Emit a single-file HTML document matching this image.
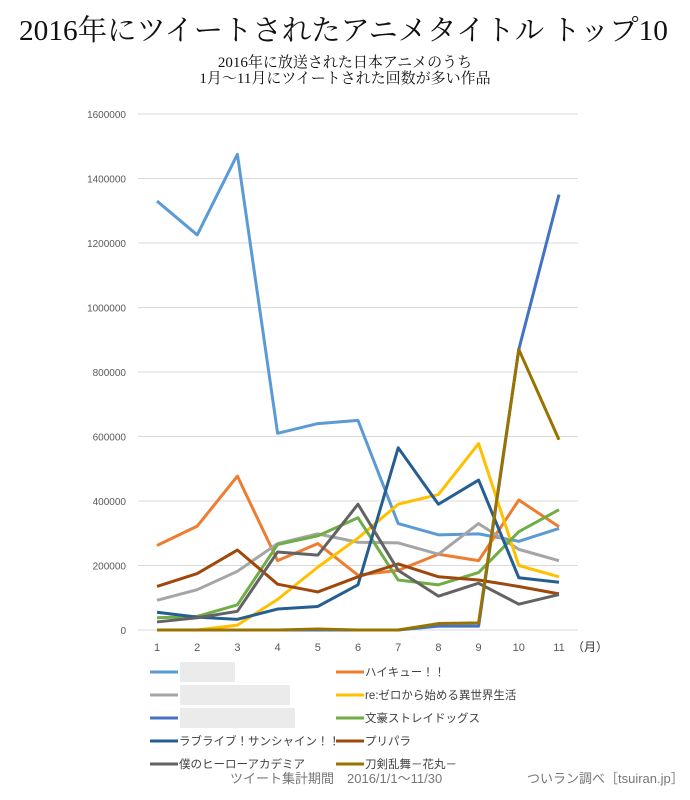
<!DOCTYPE html>
<html><head><meta charset="utf-8"><style>
body{margin:0;background:#fff;width:690px;height:795px;overflow:hidden}
svg text{font-family:"Liberation Sans","Noto Sans CJK JP",sans-serif}
.serif{font-family:"Liberation Serif","Noto Serif CJK SC",serif !important}
</style></head><body>
<svg id="chart" width="690" height="795" xmlns="http://www.w3.org/2000/svg">
<text class="serif" x="19" y="40" font-size="29" textLength="649" lengthAdjust="spacingAndGlyphs" fill="#111">2016年にツイートされたアニメタイトル トップ10</text>
<text class="serif" x="345" y="67" font-size="15" text-anchor="middle" fill="#111">2016年に放送された日本アニメのうち</text>
<text class="serif" x="345" y="83" font-size="15" text-anchor="middle" fill="#111">1月～11月にツイートされた回数が多い作品</text>
<g id="grid"></g><g id="series"></g><g id="legend"></g>
<text x="572" y="651" font-size="12" fill="#333">（月）</text>
<text x="230" y="783" font-size="13" fill="#777">ツイート集計期間　2016/1/1～11/30</text>
<text x="527" y="783" font-size="13" fill="#777">ついラン調べ［tsuiran.jp］</text>
</svg>
<script>
const months=[1,2,3,4,5,6,7,8,9,10,11];
const yTicks=[0,200000,400000,600000,800000,1000000,1200000,1400000,1600000];
const names=["","ハイキュー！！","","re:ゼロから始める異世界生活","","文豪ストレイドッグス","ラブライブ！サンシャイン！！","プリパラ","僕のヒーローアカデミア","刀剣乱舞－花丸－"];
const colors=["#5b9bd5","#ed7d31","#a5a5a5","#ffc000","#4472c4","#70ad47","#255e91","#9e480e","#636363","#997300"];
const s0=[1330000,1225000,1475000,610000,640000,650000,330000,295000,298000,275000,315000];
const s1=[262000,322000,477000,215000,268000,170000,185000,235000,215000,403000,320000];
const s2=[92000,125000,182000,268000,298000,272000,270000,235000,330000,250000,215000];
const s3=[0,0,15000,95000,195000,285000,390000,420000,578000,200000,165000];
const s4=[0,0,0,0,0,0,0,12000,12000,870000,1350000];
const s5=[38000,42000,78000,265000,292000,348000,155000,140000,178000,305000,373000];
const s6=[55000,40000,33000,65000,73000,140000,565000,390000,465000,162000,148000];
const s7=[135000,175000,248000,142000,118000,165000,205000,165000,155000,135000,112000];
const s8=[25000,38000,58000,242000,232000,390000,185000,105000,145000,80000,110000];
const s9=[0,0,0,0,3000,0,0,20000,22000,870000,590000];
const seriesData=[s0,s1,s2,s3,s4,s5,s6,s7,s8,s9];
const drawOrder=[4,0,1,2,3,5,6,7,8,9];
const NS="http://www.w3.org/2000/svg";
const X0=138,X1=578,Y0=630,Y1=114;
function xs(m){return 157+(m-1)*(559-157)/10;}
function ys(v){return Y0-(v/1600000)*(Y0-Y1);}
const grid=document.getElementById('grid');
yTicks.forEach(t=>{
 const l=document.createElementNS(NS,'line');
 
 
 l.setAttribute('x1',X0);l.setAttribute('x2',X1);l.setAttribute('y1',ys(t));l.setAttribute('y2',ys(t));
 l.setAttribute('stroke','#d9d9d9');l.setAttribute('stroke-width','1');
 grid.appendChild(l);
 const tx=document.createElementNS(NS,'text');
 
 
 tx.setAttribute('x',126);tx.setAttribute('y',ys(t)+4);tx.setAttribute('text-anchor','end');
 tx.setAttribute('font-size','10');tx.setAttribute('fill','#595959');tx.textContent=t;
 grid.appendChild(tx);
});
months.forEach(m=>{
 const tx=document.createElementNS(NS,'text');
 
 
 tx.setAttribute('x',xs(m));tx.setAttribute('y',651);tx.setAttribute('text-anchor','middle');
 tx.setAttribute('font-size','11');tx.setAttribute('fill','#595959');tx.textContent=m;
 grid.appendChild(tx);
});
const sg=document.getElementById('series');
drawOrder.forEach(i=>{
 const p=document.createElementNS(NS,'polyline');
 
 
 p.setAttribute('points',seriesData[i].map((v,j)=>xs(months[j])+','+ys(v)).join(' '));
 p.setAttribute('fill','none');p.setAttribute('stroke',colors[i]);p.setAttribute('stroke-width','3');
 p.setAttribute('stroke-linejoin','round');
 sg.appendChild(p);
});
const lg=document.getElementById('legend');
const blurW=[55,110,115];
names.forEach((n,i)=>{
 const col=i%2,row=Math.floor(i/2);
 const x=col?336:150,y=672+row*23;
 const g=document.createElementNS(NS,'g');
 
 
 const l=document.createElementNS(NS,'line');
 l.setAttribute('x1',x);l.setAttribute('x2',x+28);l.setAttribute('y1',y);l.setAttribute('y2',y);
 l.setAttribute('stroke',colors[i]);l.setAttribute('stroke-width','3');
 g.appendChild(l);
 if(n){
  const t=document.createElementNS(NS,'text');
  t.setAttribute('x',x+29);t.setAttribute('y',y+4);t.setAttribute('font-size','11.5');t.setAttribute('fill','#404040');
  t.textContent=n;g.appendChild(t);
 } else {
  const r=document.createElementNS(NS,'rect');
  r.setAttribute('x',x+30);r.setAttribute('y',y-10);r.setAttribute('width',blurW[row]);r.setAttribute('height',20);
  r.setAttribute('fill','#ebebeb');g.appendChild(r);
 }
 lg.appendChild(g);
});
</script>
</body></html>
